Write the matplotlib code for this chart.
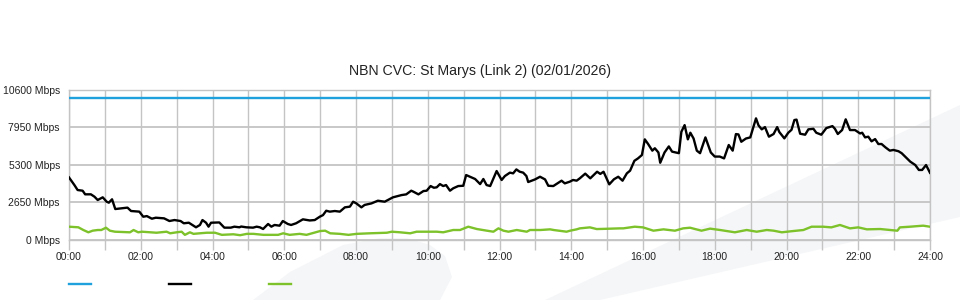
import matplotlib
matplotlib.use("Agg")
import matplotlib.pyplot as plt
from matplotlib.lines import Line2D
from matplotlib.patches import Polygon

plt.rcParams['font.family'] = ['Liberation Sans', 'DejaVu Sans']

title = "NBN CVC: St Marys (Link 2) (02/01/2026)"

capacity_mbps = 10000

black_hours = [0.00, 0.15, 0.24, 0.38, 0.45, 0.61, 0.71, 0.80, 0.94, 1.05, 1.11, 1.20, 1.29, 1.47, 1.63,
               1.73, 1.96, 2.07, 2.17, 2.31, 2.42, 2.65, 2.80, 2.94, 3.11, 3.20, 3.34, 3.54, 3.65, 3.72,
               3.82, 3.89, 3.96, 4.19, 4.33, 4.51, 4.61, 4.75, 4.80, 4.94, 5.13, 5.23, 5.32, 5.41, 5.55,
               5.64, 5.73, 5.87, 5.96, 6.10, 6.19, 6.33, 6.52, 6.71, 6.85, 6.99, 7.08, 7.17, 7.27, 7.41,
               7.55, 7.69, 7.83, 7.92, 8.01, 8.15, 8.24, 8.43, 8.61, 8.80, 8.89, 9.03, 9.17, 9.27, 9.40,
               9.54, 9.60, 9.74, 9.88, 9.97, 10.08, 10.17, 10.25, 10.34, 10.43, 10.51, 10.62, 10.71, 10.85,
               10.99, 11.07, 11.18, 11.32, 11.46, 11.55, 11.64, 11.74, 11.92, 12.06, 12.15, 12.29, 12.38,
               12.47, 12.56, 12.66, 12.75, 12.80, 12.99, 13.13, 13.27, 13.36, 13.50, 13.73, 13.82, 13.96,
               14.05, 14.15, 14.24, 14.39, 14.53, 14.72, 14.81, 14.90, 15.06, 15.19, 15.31, 15.43, 15.55,
               15.64, 15.76, 15.86, 15.97, 16.05, 16.14, 16.26, 16.33, 16.43, 16.48, 16.60, 16.72, 16.81,
               17.00, 17.07, 17.16, 17.25, 17.32, 17.41, 17.50, 17.59, 17.74, 17.89, 18.00, 18.14, 18.26,
               18.39, 18.50, 18.59, 18.66, 18.74, 18.87, 18.99, 19.15, 19.22, 19.31, 19.40, 19.51, 19.64,
               19.74, 19.80, 19.94, 20.05, 20.14, 20.22, 20.28, 20.38, 20.52, 20.61, 20.75, 20.83, 20.97,
               21.11, 21.28, 21.35, 21.43, 21.55, 21.65, 21.77, 21.91, 22.05, 22.11, 22.19, 22.28, 22.37,
               22.47, 22.56, 22.65, 22.76, 22.88, 22.98, 23.12, 23.21, 23.36, 23.45, 23.59, 23.69, 23.78,
               23.89, 24.00]
black_mbps = [4400, 3862, 3508, 3460, 3203, 3203, 3035, 2800, 2990, 2680, 2610, 2850, 2160, 2210, 2260,
              2020, 1975, 1615, 1660, 1475, 1545, 1500, 1310, 1380, 1310, 1150, 1190, 865, 1030, 1380,
              1190, 910, 1190, 1210, 840, 840, 910, 865, 920, 865, 840, 910, 865, 745, 1100,
              910, 1030, 980, 1310, 1100, 1030, 1150, 1430, 1350, 1380, 1615, 1730, 2040, 1975, 2020,
              1975, 2280, 2330, 2680, 2560, 2280, 2450, 2560, 2750, 2680, 2800, 2990, 3080, 3150, 3200,
              3460, 3390, 3200, 3435, 3460, 3790, 3670, 3700, 3930, 3790, 3860, 3460, 3630, 3790,
              3810, 4570, 4450, 4290, 3930, 4290, 3860, 3790, 4855, 4220, 4500, 4740, 4690,
              4970, 4810, 4740, 4500, 4075, 4260, 4450, 4260, 3810, 3790, 4170, 3980, 4100,
              4220, 4170, 4340, 4670, 4337, 4805, 4650, 4805, 3910, 4270, 4450, 4170, 4690,
              4880, 5580, 5750, 5990, 7100, 6780, 6300, 6470, 6170, 5440, 6170, 6600, 6230,
              6120, 7640, 8110, 7100, 7570, 7160, 6300, 6120, 7240, 6170, 5880, 5880, 5750,
              6700, 6300, 7475, 7450, 6930, 7160, 7240, 8590, 8090, 7810, 7970, 7290, 7480,
              7970, 7620, 7170, 7570, 7780, 8470, 8500, 7500, 7430, 7810, 7850, 7570, 7430,
              7900, 8040, 7850, 7480, 7760, 8520, 7760, 7760, 7520, 7570, 7240, 7290, 6960,
              7120, 6770, 6770, 6530, 6300, 6350, 6260, 6120, 5750, 5520, 5280, 4930, 4930,
              5280, 4730]

green_hours = [0.00, 0.26, 0.40, 0.54, 0.66, 0.80, 0.90, 1.03, 1.14, 1.28, 1.70, 1.80, 1.93, 2.03, 2.44,
               2.72, 2.82, 3.00, 3.14, 3.23, 3.37, 3.47, 3.65, 3.84, 4.07, 4.26, 4.58, 4.77, 4.96, 5.14,
               5.42, 5.83, 5.97, 6.15, 6.43, 6.62, 7.00, 7.14, 7.28, 7.55, 7.79, 8.02, 8.39, 8.86, 9.00,
               9.23, 9.51, 9.69, 9.97, 10.25, 10.43, 10.71, 10.90, 11.13, 11.37, 11.65, 11.83, 11.97,
               12.11, 12.25, 12.48, 12.76, 12.85, 13.14, 13.41, 13.51, 13.87, 13.97, 14.15, 14.24, 14.52,
               14.71, 14.99, 15.36, 15.45, 15.77, 16.00, 16.29, 16.57, 16.89, 17.12, 17.31, 17.63, 17.87,
               18.15, 18.56, 18.89, 19.17, 19.45, 19.64, 19.87, 20.15, 20.47, 20.70, 21.02, 21.25, 21.49,
               21.77, 22.00, 22.24, 22.61, 23.09, 23.16, 23.44, 23.81, 24.00]
green_mbps = [907, 865, 673, 510, 625, 673, 673, 836, 625, 553, 510, 673, 510, 553, 480,
              553, 440, 510, 553, 330, 510, 400, 440, 480, 480, 330, 370, 305, 400, 400,
              330, 330, 440, 330, 400, 330, 600, 625, 440, 400, 330, 400, 440, 480, 553,
              510, 440, 553, 553, 553, 510, 673, 673, 907, 743, 625, 553, 790,
              625, 553, 673, 553, 673, 673, 720, 673, 553, 625, 720, 790, 860,
              740, 760, 790, 790, 907, 860, 625, 720, 625, 790, 836, 625, 770,
              673, 510, 673, 553, 673, 625, 510, 590, 673, 907, 907, 860, 1030,
              790, 860, 720, 743, 625, 860, 907, 980, 907]

x_tick_hours = list(range(0, 25, 2))
x_tick_labels = ["%02d:00" % h for h in x_tick_hours]
y_ticks = [0, 2650, 5300, 7950, 10600]
y_tick_labels = ["%d Mbps" % v for v in y_ticks]

W, H = 960, 300
fig = plt.figure(figsize=(W / 100, H / 100), dpi=100)
fig.patch.set_facecolor("white")

# faint background watermark shapes
wm = "#f5f6f8"
band = [(960, 105), (960, 217), (600, 300), (545, 300)]
blob = [(253, 300), (290, 272), (343, 245), (380, 238), (407, 238), (430, 245), (445, 256),
        (452, 277), (440, 300)]
for pts in (band, blob):
    fig.add_artist(Polygon([(x / W, 1 - y / H) for x, y in pts], closed=True,
                           transform=fig.transFigure, facecolor=wm, edgecolor="none", zorder=-5))

ax = fig.add_axes([69 / W, 1 - 239.5 / H, 861 / W, 149.5 / H])
ax.set_facecolor("none")

blue_c = "#1ea1dd"
green_c = "#7dc22a"
ax.plot([0, 24], [capacity_mbps, capacity_mbps], color=blue_c, lw=1.7, zorder=3)
ax.plot(green_hours, green_mbps, color=green_c, lw=1.7, zorder=3)
ax.plot(black_hours, black_mbps, color="black", lw=1.7, zorder=4)

ax.set_xlim(0, 24)
ax.set_ylim(0, 10600)
ax.set_xticks(x_tick_hours)
ax.set_xticklabels(x_tick_labels)
ax.set_xticks(range(0, 25), minor=True)
ax.set_yticks(y_ticks)
ax.set_yticklabels(y_tick_labels)

grid_c = "#c4c4c4"
ax.set_axisbelow(True)
ax.grid(True, which="both", axis="x", color=grid_c, lw=1.0)
ax.grid(True, which="major", axis="y", color=grid_c, lw=1.3)
ax.tick_params(axis="x", which="both", length=7.2, width=1.0, color=grid_c, direction="out",
               pad=1.5, labelsize=7.5, labelcolor="#222222")
ax.tick_params(axis="y", length=0, pad=6.5, labelsize=7.5, labelcolor="#222222")
for s in ax.spines.values():
    s.set_color(grid_c)
    s.set_linewidth(1.0)

fig.text(0.5, 1 - 71 / H, title, ha="center", va="center", fontsize=10.2, color="#222222")

handles = [Line2D([], [], color=c, lw=1.7) for c in (blue_c, "black", green_c)]
fig.legend(handles, ["", "", ""], loc="center left", bbox_to_anchor=(69 / W, 1 - 285 / H),
           ncol=3, frameon=False, fontsize=10, handlelength=22 / 13.89, handletextpad=0,
           columnspacing=78 / 13.89, borderpad=0, borderaxespad=0)

fig.savefig("out.png", dpi=100, facecolor="white")
